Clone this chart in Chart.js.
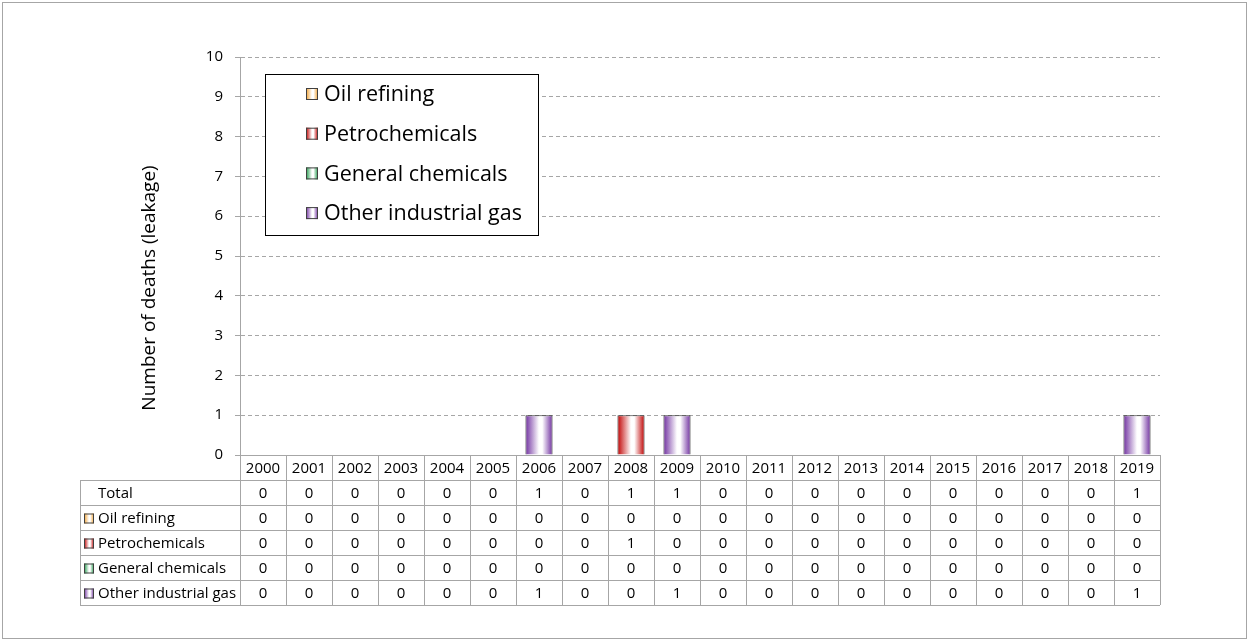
<!DOCTYPE html>
<html>
<head>
<meta charset="utf-8">
<script src="https://cdn.jsdelivr.net/npm/chart.js@4/dist/chart.umd.min.js"></script>
<style>
  html, body { margin: 0; padding: 0; background: #fff; }
</style>
</head>
<body>
<canvas id="myChart" width="1250" height="642"></canvas>
<script>
const years = ['2000','2001','2002','2003','2004','2005','2006','2007','2008','2009',
               '2010','2011','2012','2013','2014','2015','2016','2017','2018','2019']
const oilRefining     = [0,0,0,0,0,0,0,0,0,0,0,0,0,0,0,0,0,0,0,0]
const petrochemicals  = [0,0,0,0,0,0,0,0,1,0,0,0,0,0,0,0,0,0,0,0]
const generalChem     = [0,0,0,0,0,0,0,0,0,0,0,0,0,0,0,0,0,0,0,0]
const otherGas        = [0,0,0,0,0,0,1,0,0,1,0,0,0,0,0,0,0,0,0,1]
const seriesNames  = ['Oil refining', 'Petrochemicals', 'General chemicals', 'Other industrial gas']
const seriesColors = ['#f0a030', '#c00000', '#1f9a4a', '#7030a0']
const yTicks = [0,1,2,3,4,5,6,7,8,9,10]

const FONT = '"Open Sans", Lato, sans-serif'
const BAR_PCT = 0.59
const gridGray = '#a6a6a6'

function fillGrad(ctx, x0, x1, color) {
  const g = ctx.createLinearGradient(x0, 0, x1, 0)
  g.addColorStop(0, color)
  g.addColorStop(0.5, '#ffffff')
  g.addColorStop(0.62, '#ffffff')
  g.addColorStop(1, color)
  return g
}

function barFill(color) {
  return (c) => {
    const xs = c.chart.scales.x
    if (!xs || c.dataIndex === undefined) return color
    const cx = xs.getPixelForValue(c.dataIndex)
    const half = xs.width / years.length * BAR_PCT / 2
    if (!isFinite(cx) || !isFinite(half) || half <= 0) return color
    return fillGrad(c.chart.ctx, cx - half, cx + half, color)
  }
}

const seriesData = [oilRefining, petrochemicals, generalChem, otherGas]
const totals = years.map((_, i) => seriesData.reduce((s, arr) => s + arr[i], 0))

function swatch(ctx, x, y, size, color) {
  ctx.fillStyle = fillGrad(ctx, x, x + size, color)
  ctx.fillRect(x, y, size, size)
  ctx.strokeStyle = '#404040'
  ctx.lineWidth = 1
  ctx.strokeRect(x + 0.5, y + 0.5, size - 1, size - 1)
}

const frame = {
  id: 'frame',
  beforeDraw(chart) {
    const ctx = chart.ctx
    ctx.save()
    ctx.fillStyle = '#fff'
    ctx.fillRect(0, 0, chart.width, chart.height)
    ctx.strokeStyle = '#a6a6a6'
    ctx.lineWidth = 1
    ctx.strokeRect(2.5, 2.5, 1244, 636)
    // y axis title
    ctx.translate(150, 288)
    ctx.rotate(-Math.PI / 2)
    ctx.fillStyle = '#000'
    ctx.font = '19px ' + FONT
    ctx.textAlign = 'center'
    ctx.textBaseline = 'middle'
    ctx.fillText('Number of deaths (leakage)', 0, 0)
    ctx.restore()
  }
}

const legendBox = {
  id: 'legendBox',
  afterDraw(chart) {
    const ctx = chart.ctx
    ctx.save()
    ctx.fillStyle = '#fff'
    ctx.fillRect(265, 74, 273, 161)
    ctx.strokeStyle = '#000'
    ctx.lineWidth = 1
    ctx.strokeRect(265.5, 74.5, 273, 161)
    ctx.font = '21.5px ' + FONT
    ctx.textBaseline = 'middle'
    seriesNames.forEach((name, i) => {
      const y = 94 + i * 39.7
      swatch(ctx, 306, y - 6, 12, seriesColors[i])
      ctx.fillStyle = '#000'
      ctx.fillText(name, 324, y + 1)
    })
    ctx.restore()
  }
}

const dataTable = {
  id: 'dataTable',
  afterDraw(chart) {
    const ctx = chart.ctx
    const { left, right, bottom } = chart.chartArea
    const colW = (right - left) / years.length
    const rowH = 25
    const tLeft = 80
    const nRows = 5
    ctx.save()
    ctx.strokeStyle = gridGray
    ctx.lineWidth = 1
    ctx.beginPath()
    for (let r = 1; r <= nRows + 1; r++) {
      const y = Math.round(bottom + r * rowH) + 0.5
      ctx.moveTo(tLeft, y); ctx.lineTo(right, y)
    }
    ctx.moveTo(tLeft + 0.5, bottom + rowH); ctx.lineTo(tLeft + 0.5, bottom + (nRows + 1) * rowH)
    for (let c = 0; c <= years.length; c++) {
      const x = Math.round(left + c * colW) + 0.5
      ctx.moveTo(x, bottom); ctx.lineTo(x, bottom + (nRows + 1) * rowH)
    }
    ctx.stroke()

    ctx.fillStyle = '#000'
    ctx.font = '15px ' + FONT
    ctx.textBaseline = 'middle'
    ctx.textAlign = 'center'
    years.forEach((yr, i) => ctx.fillText(yr, left + (i + 0.5) * colW, bottom + rowH / 2 + 1.5))
    const rows = [totals].concat(seriesData)
    rows.forEach((arr, r) => {
      const cy = bottom + (r + 1.5) * rowH + 1.5
      arr.forEach((v, i) => ctx.fillText(String(v), left + (i + 0.5) * colW, cy))
    })
    ctx.textAlign = 'left'
    ctx.fillText('Total', 98, bottom + 1.5 * rowH + 1.5)
    seriesNames.forEach((name, i) => {
      const cy = bottom + (i + 2.5) * rowH + 1.5
      swatch(ctx, 84, cy - 5.5, 10, seriesColors[i])
      ctx.fillStyle = '#000'
      ctx.fillText(name, 98, cy)
    })
    ctx.restore()
  }
}

const ctx = document.getElementById('myChart')

new Chart(ctx, {
  type: 'bar',
  data: {
    labels: years,
    datasets: seriesNames.map((name, i) => ({
      label: name,
      data: seriesData[i],
      backgroundColor: barFill(seriesColors[i]),
      borderColor: '#303030',
      borderWidth: (c) => (c.raw ? 1 : 0),
      categoryPercentage: 1,
      barPercentage: BAR_PCT
    }))
  },
  options: {
    responsive: false,
    animation: false,
    layout: { padding: { left: 0, top: 57, right: 90, bottom: 187 } },
    plugins: {
      legend: { display: false },
      tooltip: { enabled: false }
    },
    scales: {
      x: {
        stacked: true,
        grid: { display: false },
        ticks: { display: false },
        border: { display: true, color: gridGray },
        afterFit: (s) => { s.height = 0 }
      },
      y: {
        stacked: true,
        min: 0,
        max: 10,
        afterBuildTicks: (s) => { s.ticks = yTicks.map(v => ({ value: v })) },
        ticks: { color: '#000', font: { size: 15, family: FONT }, padding: 12 },
        grid: { color: gridGray, tickLength: 5, tickBorderDash: [], drawOnChartArea: true },
        border: { display: true, color: gridGray, dash: [4, 3] },
        afterFit: (s) => { s.width = 240 }
      }
    }
  },
  plugins: [frame, legendBox, dataTable]
});
</script>
</body>
</html>
